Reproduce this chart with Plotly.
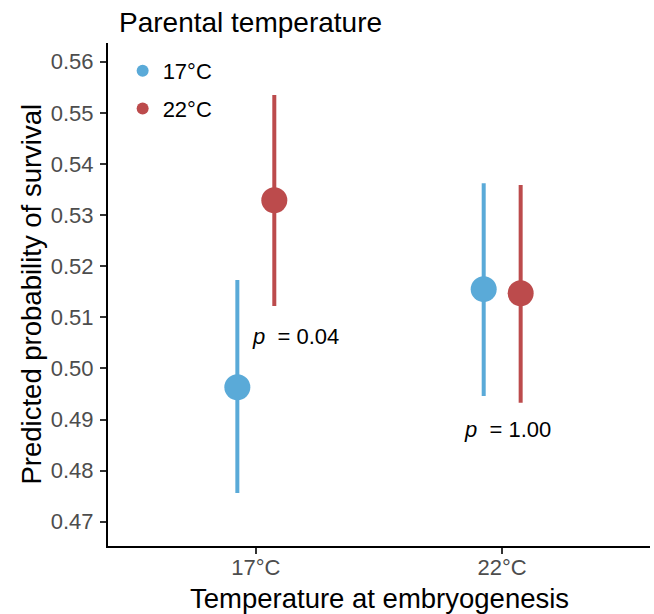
import plotly.graph_objects as go

# Embryogenesis temperature categories (x axis)
categories = ["17°C", "22°C"]
cat_pos = [1, 2]

# Parental temperature groups
parental = ["17°C", "22°C"]
colors = ["#5AAAD8", "#BC4B4C"]

# Predicted survival probability with 95% interval, per parental group
mean_p17 = [0.4963, 0.5155]
lower_p17 = [0.4756, 0.4946]
upper_p17 = [0.5173, 0.5362]

mean_p22 = [0.5329, 0.5147]
lower_p22 = [0.5122, 0.4933]
upper_p22 = [0.5535, 0.5359]

# p-value labels for the within-category contrast
p_labels = ["0.04", "1.00"]
p_x = [1.16, 2.02]
p_y = [0.5062, 0.4880]

dodge = 0.075
FONT = "Liberation Sans, Arial, sans-serif"

fig = go.Figure()
series = [
    (parental[0], mean_p17, lower_p17, upper_p17, -dodge, colors[0]),
    (parental[1], mean_p22, lower_p22, upper_p22, dodge, colors[1]),
]
for name, m, lo, hi, off, col in series:
    fig.add_trace(go.Scatter(
        x=[c + off for c in cat_pos],
        y=m,
        mode="markers",
        name=name,
        legendgroup=name,
        marker=dict(size=26, color=col, line=dict(width=0)),
        error_y=dict(
            type="data",
            symmetric=False,
            array=[h - v for h, v in zip(hi, m)],
            arrayminus=[v - l for v, l in zip(m, lo)],
            width=0,
            thickness=4,
            color=col,
        ),
    ))

for lab, x, y in zip(p_labels, p_x, p_y):
    fig.add_annotation(
        x=x, y=y, xref="x", yref="y",
        text="<i>p</i>\u00a0\u00a0=\u00a0" + lab,
        showarrow=False,
        font=dict(family=FONT, size=22, color="black"),
        xanchor="center", yanchor="middle",
    )

# Axis titles
fig.add_annotation(
    x=0.5, y=0, xref="paper", yref="paper",
    text="Temperature at embryogenesis", showarrow=False,
    xanchor="center", yanchor="middle", yshift=-52,
    font=dict(family=FONT, size=27.5, color="black"),
)
fig.add_annotation(
    x=0, y=0.5, xref="paper", yref="paper",
    text="Predicted probability of survival", showarrow=False,
    textangle=-90, xanchor="center", yanchor="middle", xshift=-77,
    font=dict(family=FONT, size=27.5, color="black"),
)

# Legend heading
fig.add_annotation(
    x=0.022, y=1.0417, xref="paper", yref="paper",
    text="Parental temperature", showarrow=False,
    xanchor="left", yanchor="middle", xshift=-3,
    font=dict(family=FONT, size=28, color="black"),
)

axis_common = dict(
    showgrid=False, zeroline=False,
    showline=True, linecolor="black", linewidth=2,
    ticks="outside", ticklen=6, tickwidth=1.5, tickcolor="#333333",
    tickfont=dict(family=FONT, size=22, color="#4D4D4D"),
)

fig.update_xaxes(
    range=[0.4, 2.6], tickvals=cat_pos, ticktext=categories,
    ticklabelstandoff=-5,
    **axis_common,
)
fig.update_yaxes(
    range=[0.46525, 0.56366],
    tickvals=[0.47, 0.48, 0.49, 0.50, 0.51, 0.52, 0.53, 0.54, 0.55, 0.56],
    tickformat=".2f", ticklabelstandoff=2,
    **axis_common,
)

fig.update_layout(
    width=654, height=614,
    margin=dict(l=108, r=4, t=43, b=68),
    plot_bgcolor="white", paper_bgcolor="white",
    font=dict(family=FONT),
    showlegend=True,
    legend=dict(
        font=dict(family=FONT, size=22, color="black"),
        x=0.027, y=0.986, xanchor="left", yanchor="top",
        bgcolor="rgba(0,0,0,0)",
        tracegroupgap=6,
        itemsizing="constant",
    ),
)

fig.write_html("out.html")
